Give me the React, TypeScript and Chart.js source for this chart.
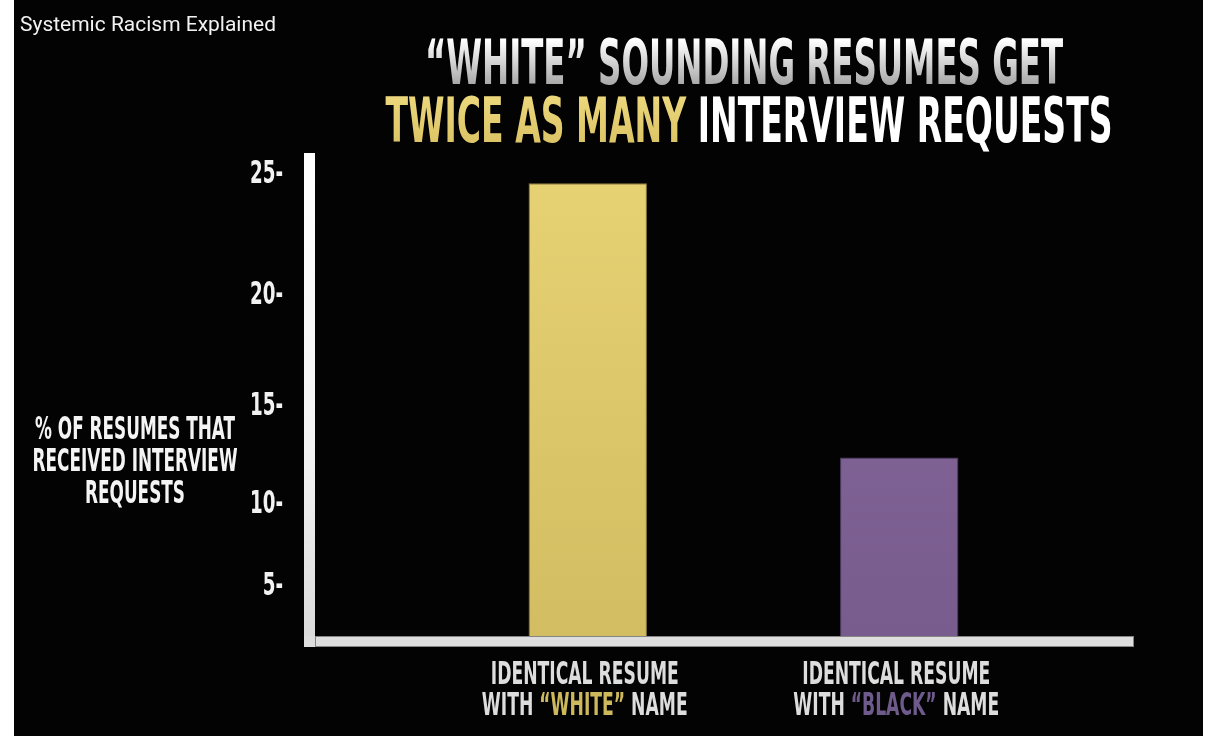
import React, { useEffect, useRef } from "react";
import { Chart, registerables, LinearScale } from "chart.js";

// ---------- data ----------
const CATEGORY_NAMES = ["WHITE", "BLACK"];
const CATEGORY_PREFIX = "IDENTICAL RESUME";
const CATEGORIES = CATEGORY_NAMES.map((n) => `${CATEGORY_PREFIX} WITH “${n}” NAME`);
const INTERVIEW_RATES = [24.5, 12.3];
const Y_TICKS = [5, 10, 15, 20, 25];
const Y_MIN = 0;
const Y_MAX = 25.7;
const Y_TITLE_LINES = ["% OF RESUMES THAT", "RECEIVED INTERVIEW", "REQUESTS"];
const TITLE_LINE1 = "“WHITE” SOUNDING RESUMES GET";
const TITLE_HIGHLIGHT = "TWICE AS MANY";
const TITLE_REST = "INTERVIEW REQUESTS";
const CAPTION = "Systemic Racism Explained";

// ---------- style ----------
const W = 1213;
const H = 736;
const COND = '"Liberation Sans Narrow", "DejaVu Sans Condensed", "Roboto Condensed", "Liberation Sans", sans-serif';
const YELLOW = "#e7d274";
const YELLOW_DARK = "#d3bd62";
const PURPLE = "#87699d";
const PURPLE_DARK = "#795c8e";
const LABEL_YELLOW = "#cdb85c";
const LABEL_PURPLE = "#6e5a8b";
const Y_EXP = 1.35;

class PowerScale extends LinearScale {
  static id = "power";
  static defaults = LinearScale.defaults;
  _f(v: number) {
    return Math.sign(v) * Math.pow(Math.abs(v), Y_EXP);
  }
  getPixelForValue(value: number) {
    if (value === null || value === undefined || isNaN(value)) return NaN;
    const a = this._f(this.min);
    const b = this._f(this.max);
    return this.getPixelForDecimal((this._f(value) - a) / (b - a));
  }
  getValueForPixel(pixel: number) {
    const a = this._f(this.min);
    const b = this._f(this.max);
    const t = a + this.getDecimalForPixel(pixel) * (b - a);
    return Math.sign(t) * Math.pow(Math.abs(t), 1 / Y_EXP);
  }
}

Chart.register(...registerables, PowerScale);

type Seg = { text: string; color: any };

function drawSegLine(
  ctx: CanvasRenderingContext2D,
  segs: Seg[],
  x0: number,
  baseline: number,
  font: string,
  sx: number,
  align: "center" | "left" | "right" = "center"
) {
  ctx.save();
  ctx.font = font;
  ctx.textBaseline = "alphabetic";
  ctx.textAlign = "left";
  const widths = segs.map((s) => ctx.measureText(s.text).width);
  const total = widths.reduce((a, b) => a + b, 0);
  ctx.translate(x0, baseline);
  ctx.scale(sx, 1);
  let x = align === "center" ? -total / 2 : align === "right" ? -total : 0;
  segs.forEach((s, i) => {
    ctx.fillStyle = typeof s.color === "function" ? s.color(ctx) : s.color;
    ctx.fillText(s.text, x, 0);
    x += widths[i];
  });
  ctx.restore();
}

function fitScale(ctx: CanvasRenderingContext2D, text: string, font: string, target: number) {
  ctx.save();
  ctx.font = font;
  const w = ctx.measureText(text).width;
  ctx.restore();
  return target / w;
}

const decorPlugin = {
  id: "decor",
  beforeDraw(chart: any) {
    const ctx = chart.ctx;
    ctx.save();
    ctx.fillStyle = "#ffffff";
    ctx.fillRect(0, 0, W, H);
    ctx.fillStyle = "#030303";
    ctx.fillRect(14, 0, 1189, H);
    ctx.restore();
  },
  afterDatasetsDraw(chart: any) {
    const ctx = chart.ctx;
    const y0 = chart.scales.y.getPixelForValue(0);
    const axisLeft = 304;
    const axisTop = 153;
    const axisRight = 1134;
    const thick = 11;
    ctx.save();
    const gv = ctx.createLinearGradient(0, axisTop, 0, y0 + thick);
    gv.addColorStop(0, "#ffffff");
    gv.addColorStop(0.6, "#f4f4f4");
    gv.addColorStop(1, "#dadada");
    ctx.fillStyle = gv;
    ctx.fillRect(axisLeft, axisTop, thick, y0 + thick - axisTop);
    ctx.fillStyle = "#dedede";
    ctx.fillRect(axisLeft, y0, axisRight - axisLeft, thick);
    ctx.strokeStyle = "rgba(110,110,110,0.8)";
    ctx.lineWidth = 1;
    ctx.strokeRect(axisLeft + thick + 0.5, y0 + 0.5, axisRight - axisLeft - thick - 1, thick - 1);
    ctx.restore();
  },
  afterDraw(chart: any) {
    const ctx = chart.ctx;
    // caption
    const capFont = "20px Roboto, sans-serif";
    const sCap = fitScale(ctx, CAPTION, capFont, 256);
    drawSegLine(ctx, [{ text: CAPTION, color: "#f2f2f2" }], 20, 31, capFont, sCap, "left");

    // y tick labels (from the scale's own ticks)
    const ys = chart.scales.y;
    const tkFont = `bold 32px ${COND}`;
    const sTk = fitScale(ctx, "25-", tkFont, 33);
    ys.ticks.forEach((t: any, i: number) => {
      const py = ys.getPixelForTick(i);
      drawSegLine(ctx, [{ text: `${t.value}-`, color: "#f2f2f2" }], 283, py + 12, tkFont, sTk, "right");
    });

    // title
    const tFont = `bold 62px ${COND}`;
    const s1 = fitScale(ctx, TITLE_LINE1, tFont, 638);
    const silver = (c: CanvasRenderingContext2D) => {
      const g = c.createLinearGradient(0, -44, 0, 0);
      g.addColorStop(0, "#ffffff");
      g.addColorStop(1, "#a9a9a9");
      return g;
    };
    drawSegLine(ctx, [{ text: TITLE_LINE1, color: silver }], 744, 84, tFont, s1);
    const line2 = `${TITLE_HIGHLIGHT} ${TITLE_REST}`;
    const s2 = fitScale(ctx, line2, tFont, 727);
    const gold = (c: CanvasRenderingContext2D) => {
      const g = c.createLinearGradient(0, -46, 0, 0);
      g.addColorStop(0, "#ecd77c");
      g.addColorStop(1, "#dcc566");
      return g;
    };
    drawSegLine(
      ctx,
      [
        { text: TITLE_HIGHLIGHT + " ", color: gold },
        { text: TITLE_REST, color: "#ffffff" },
      ],
      749,
      142,
      tFont,
      s2
    );

    // y axis title
    const yFont = `bold 32px ${COND}`;
    const sy = fitScale(ctx, Y_TITLE_LINES[1], yFont, 205);
    Y_TITLE_LINES.forEach((t, i) => {
      drawSegLine(ctx, [{ text: t, color: "#f4f4f4" }], 135, 439 + i * 32, yFont, sy);
    });

    // category labels
    const xs = chart.scales.x;
    const cFont = `bold 32px ${COND}`;
    const sc = fitScale(ctx, CATEGORY_PREFIX, cFont, 188);
    CATEGORY_NAMES.forEach((n, i) => {
      const cx = xs.getPixelForValue(i);
      drawSegLine(ctx, [{ text: CATEGORY_PREFIX, color: "#dddddd" }], cx - 3, 684, cFont, sc);
      drawSegLine(
        ctx,
        [
          { text: "WITH ", color: "#dddddd" },
          { text: `“${n}”`, color: i === 0 ? LABEL_YELLOW : LABEL_PURPLE },
          { text: " NAME", color: "#dddddd" },
        ],
        cx - 3,
        715,
        cFont,
        sc
      );
    });
  },
};

export default function App() {
  const ref = useRef<HTMLCanvasElement | null>(null);
  useEffect(() => {
    if (!ref.current) return;
    const barFill = (c0: string, c1: string) => (ctx: any) => {
      const area = ctx.chart.chartArea;
      if (!area) return c0;
      const g = ctx.chart.ctx.createLinearGradient(0, area.top, 0, area.bottom);
      g.addColorStop(0, c0);
      g.addColorStop(1, c1);
      return g;
    };
    const fills = [barFill(YELLOW, YELLOW_DARK), barFill(PURPLE, PURPLE_DARK)];
    const chart = new Chart(ref.current, {
      type: "bar",
      data: {
        labels: CATEGORIES,
        datasets: [
          {
            label: "% of resumes that received interview requests",
            data: INTERVIEW_RATES,
            backgroundColor: (ctx: any) => fills[ctx.dataIndex % 2](ctx),
            borderColor: ["#8d7c3e", "#4f3d62"],
            borderWidth: 1,
            borderSkipped: "bottom",
            barPercentage: 0.38,
            categoryPercentage: 1,
          },
        ],
      },
      options: {
        animation: false,
        responsive: false,
        devicePixelRatio: 1,
        layout: { padding: { left: 0, right: 158, top: 153, bottom: 100 } },
        plugins: { legend: { display: false }, tooltip: { enabled: false }, title: { display: false } },
        scales: {
          x: { type: "category", display: false, offset: true },
          y: {
            type: "power",
            min: Y_MIN,
            max: Y_MAX,
            afterBuildTicks: (s: any) => {
              s.ticks = Y_TICKS.map((v) => ({ value: v }));
            },
            afterFit: (s: any) => {
              s.width = 432;
            },
            grid: { display: false, drawTicks: false },
            border: { display: false },
            ticks: { display: false, autoSkip: false },
          } as any,
        },
      },
      plugins: [decorPlugin],
    });
    return () => chart.destroy();
  }, []);
  return (
    <div style={{ position: "fixed", left: 0, top: 0, width: W, height: H, background: "#fff" }}>
      <canvas ref={ref} width={W} height={H} style={{ display: "block", width: W, height: H }} />
    </div>
  );
}
